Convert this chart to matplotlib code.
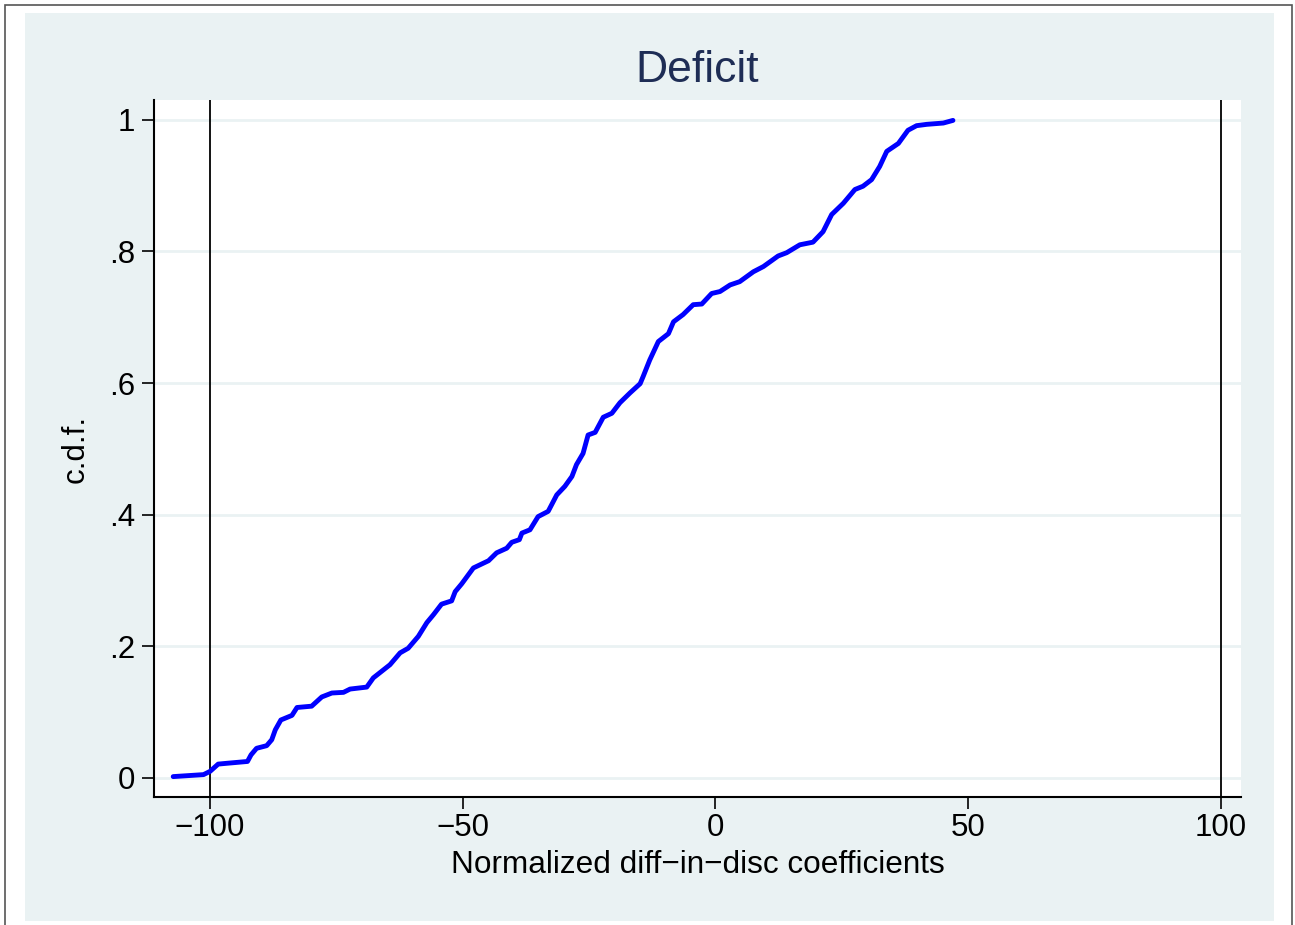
"""CDF of normalized diff-in-disc coefficients (Deficit), Stata-like look."""
import matplotlib
matplotlib.use("Agg")
import matplotlib.pyplot as plt
from matplotlib.patches import Rectangle

plt.rcParams['font.family'] = ['Liberation Sans', 'DejaVu Sans']

# values
coef = [-107.3, -101.3, -100, -98.4, -97.0, -92.6, -91.9, -90.8, -88.8, -87.8,
        -87.1, -86.0, -83.8, -82.8, -79.9, -77.9, -75.9, -73.6, -72.3, -69.0,
        -67.7, -64.4, -62.4, -60.8, -58.8, -57.1, -55.8, -54.2, -52.2, -51.5,
        -50.2, -47.9, -44.9, -43.3, -41.3, -40.3, -38.8, -38.3, -36.7, -35.1,
        -33.1, -31.4, -29.8, -28.4, -27.5, -26.2, -25.2, -23.8, -22.2, -20.5,
        -18.9, -16.9, -14.9, -14.3, -13.0, -11.3, -9.3, -8.3, -6.4, -4.4,
        -2.7, -0.75, 0.9, 2.9, 4.8, 7.5, 9.5, 12.4, 14.1, 16.7,
        19.3, 21.3, 23.0, 25.3, 27.6, 29.2, 30.9, 32.5, 33.9, 36.2,
        38.1, 39.8, 41.8, 45.1, 47.0]
cdf = [0.002, 0.005, 0.010, 0.021, 0.022, 0.025, 0.035, 0.045, 0.049, 0.058,
       0.073, 0.088, 0.095, 0.107, 0.109, 0.123, 0.129, 0.130, 0.135, 0.138,
       0.152, 0.172, 0.190, 0.197, 0.215, 0.236, 0.248, 0.264, 0.269, 0.283,
       0.295, 0.319, 0.330, 0.342, 0.349, 0.358, 0.362, 0.372, 0.377, 0.397,
       0.405, 0.430, 0.443, 0.458, 0.476, 0.493, 0.521, 0.525, 0.548, 0.554,
       0.570, 0.585, 0.599, 0.610, 0.635, 0.663, 0.675, 0.693, 0.704, 0.719,
       0.720, 0.736, 0.739, 0.749, 0.754, 0.769, 0.777, 0.793, 0.798, 0.810,
       0.814, 0.830, 0.856, 0.873, 0.894, 0.899, 0.909, 0.929, 0.952, 0.964,
       0.984, 0.991, 0.993, 0.995, 0.999]
x_ticks = [-100, -50, 0, 50, 100]
x_labels = ['\u2212100', '\u221250', '0', '50', '100']
y_ticks = [0, 0.2, 0.4, 0.6, 0.8, 1]
y_labels = ['0', '.2', '.4', '.6', '.8', '1']
ref_lines = [-100, 100]

BG = '#EAF2F3'
W, H = 1295, 925

fig = plt.figure(figsize=(W / 100, H / 100), dpi=100, facecolor='white')
# outer frame and light graph region, kept behind the axes
fig.patches.append(Rectangle((5 / W, -0.05), 1287 / W, 1.05 - 5 / H,
                             transform=fig.transFigure, fill=False,
                             edgecolor='#555555', linewidth=1.2, zorder=-2))
fig.patches.append(Rectangle((25 / W, 4 / H), 1249 / W, 908 / H,
                             transform=fig.transFigure, facecolor=BG,
                             edgecolor='none', zorder=-1))

ax = fig.add_axes([154 / W, 1 - 797 / H, 1087 / W, 697 / H])
ax.set_zorder(1)
ax.set_facecolor('white')
ax.set_xlim(-111.1, 104.0)
ax.set_ylim(-0.029, 1.030)

for v in y_ticks:
    ax.axhline(v, color=BG, linewidth=2, zorder=1)
for v in ref_lines:
    ax.axvline(v, color='black', linewidth=1.3, zorder=2)

ax.plot(coef, cdf, color='#0000FF', linewidth=3.5, zorder=3,
        solid_capstyle='round', solid_joinstyle='round')

for side in ['top', 'right']:
    ax.spines[side].set_visible(False)
for side in ['left', 'bottom']:
    ax.spines[side].set_linewidth(1.5)

ax.set_xticks(x_ticks)
ax.set_xticklabels(x_labels)
ax.set_yticks(y_ticks)
ax.set_yticklabels(y_labels)
ax.tick_params(axis='both', labelsize=22.5, length=8.5, width=1.2, colors='black')
ax.tick_params(axis='x', pad=3)
ax.tick_params(axis='y', pad=5)

ax.set_xlabel('Normalized diff\u2212in\u2212disc coefficients', fontsize=22.7, labelpad=5)
ax.set_ylabel('c.d.f.', fontsize=22.5, labelpad=13)
ax.set_title('Deficit', fontsize=32, color='#1E2D55', pad=13)

fig.savefig('out.png', dpi=100, facecolor='white')
